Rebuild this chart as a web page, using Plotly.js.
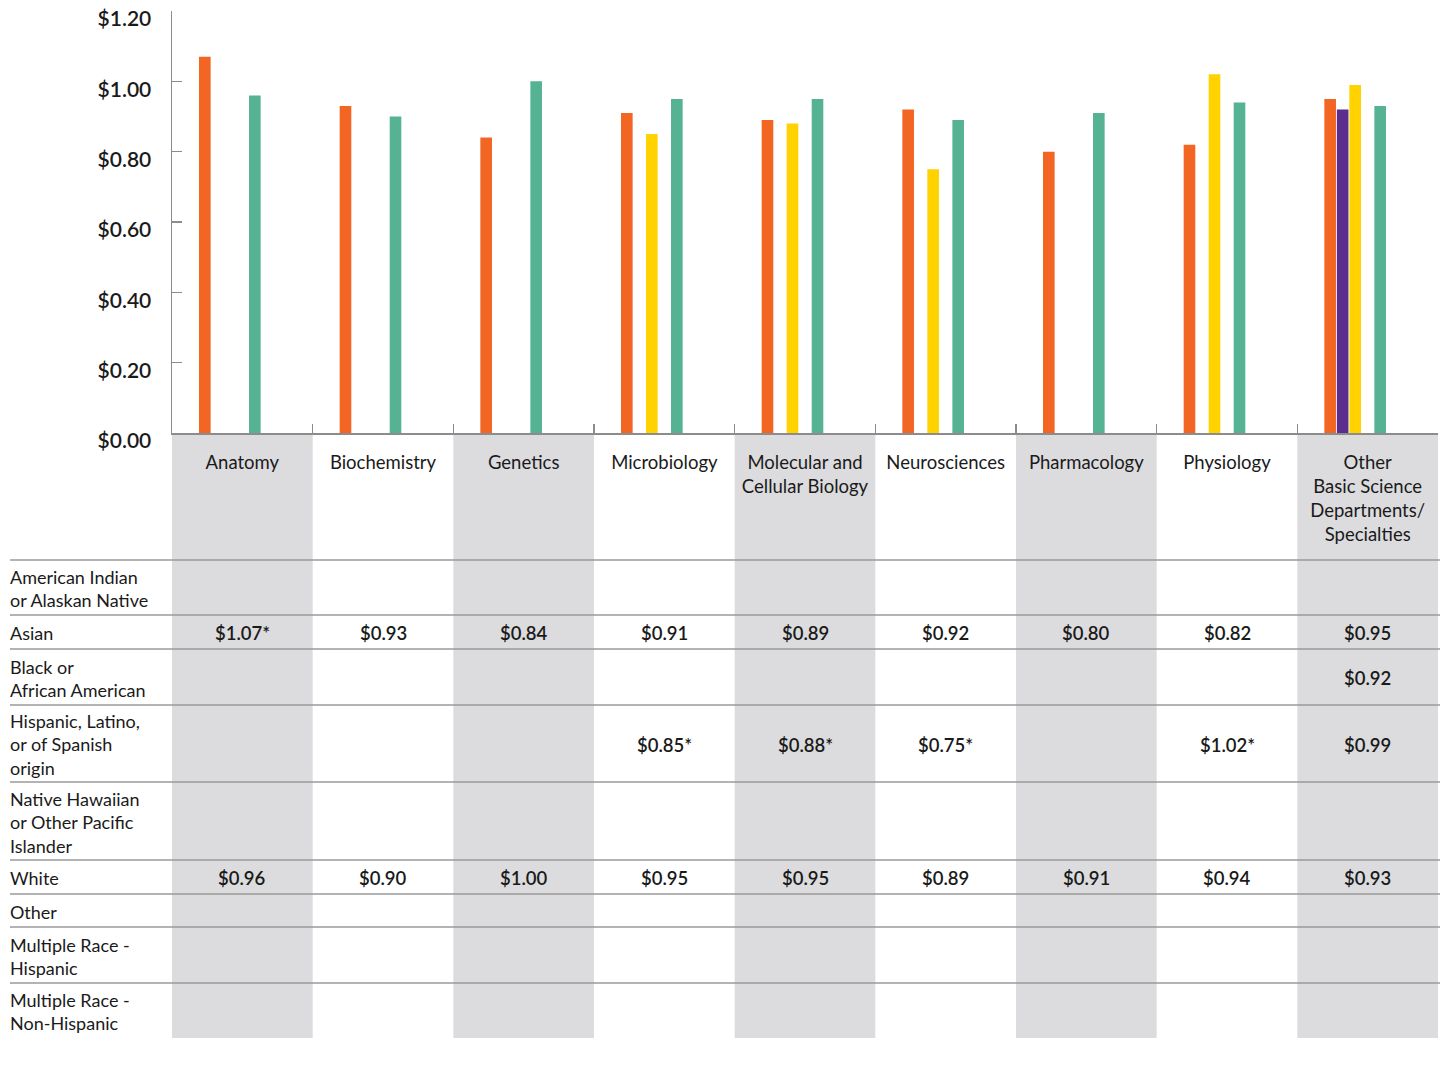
<!DOCTYPE html>
<html>
<head>
<meta charset="utf-8">
<script src="https://cdn.plot.ly/plotly-3.0.1.min.js"></script>
<style>html,body{margin:0;padding:0;background:#fff;}</style>
</head>
<body>
<div id="chart" style="width:1445px;height:1066px;"></div>
<script>
// ---------- DATA ----------
const categories = ['Anatomy', 'Biochemistry', 'Genetics', 'Microbiology',
  'Molecular and<br>Cellular Biology', 'Neurosciences', 'Pharmacology', 'Physiology',
  'Other<br>Basic Science<br>Departments/<br>Specialties'];

const raceGroups = ['American Indian<br>or Alaskan Native', 'Asian', 'Black or<br>African American',
  'Hispanic, Latino,<br>or of Spanish<br>origin', 'Native Hawaiian<br>or Other Pacific<br>Islander',
  'White', 'Other', 'Multiple Race -<br>Hispanic', 'Multiple Race -<br>Non-Hispanic'];

const aianValues     = [null, null, null, null, null, null, null, null, null];
const asianValues    = [1.07, 0.93, 0.84, 0.91, 0.89, 0.92, 0.80, 0.82, 0.95];
const blackValues    = [null, null, null, null, null, null, null, null, 0.92];
const hispanicValues = [null, null, null, 0.85, 0.88, 0.75, null, 1.02, 0.99];
const nhpiValues     = [null, null, null, null, null, null, null, null, null];
const whiteValues    = [0.96, 0.90, 1.00, 0.95, 0.95, 0.89, 0.91, 0.94, 0.93];
const otherValues    = [null, null, null, null, null, null, null, null, null];
const mrHispValues   = [null, null, null, null, null, null, null, null, null];
const mrNonHispValues= [null, null, null, null, null, null, null, null, null];

// significance flags (asterisk in the table)
const asianFlags    = [true, false, false, false, false, false, false, false, false];
const hispanicFlags = [false, false, false, true, true, true, false, true, false];

const yTickValues = [0, 0.2, 0.4, 0.6, 0.8, 1.0, 1.2];
const yTickLabels = ['$0.00', '$0.20', '$0.40', '$0.60', '$0.80', '$1.00', '$1.20'];

// ---------- STYLE ----------
const seriesValues = [aianValues, asianValues, blackValues, hispanicValues, nhpiValues,
  whiteValues, otherValues, mrHispValues, mrNonHispValues];
const noFlags = categories.map(() => false);
const seriesFlags = [noFlags, asianFlags, noFlags, hispanicFlags, noFlags, noFlags, noFlags, noFlags, noFlags];
const seriesColors = ['#9b9b9b', '#F26522', '#5B2D8E', '#FFD200', '#3f7fbf',
  '#55B293', '#888888', '#777777', '#666666'];

const FONT = 'Lato, "Open Sans", sans-serif';
const TXT = '#1a1a1a';
const LINE = '#9a9a9a';

const W = 1445, H = 1066;
const mL = 172, mR = 7, mT = 11, mB = 633;
const plotH = H - mT - mB;       // 422
const plotW = W - mL - mR;       // 1266
const py = p => (H - mB - p) / plotH;   // pixel y -> paper y
const px = p => (p - mL) / plotW;       // pixel x -> paper x

// table row boundaries (pixels)
const rowEdges = [560, 615, 649, 705, 782, 860, 894, 927, 983, 1038];

const traces = seriesValues.map((vals, i) => ({
  type: 'bar',
  name: raceGroups[i].replace(/<br>/g, ' '),
  x: categories,
  y: vals,
  marker: {color: seriesColors[i], line: {width: 0}},
  hoverinfo: 'x+y+name',
  showlegend: false
}));

const shapes = [];
categories.forEach((c, i) => {
  if (i % 2 === 0) {
    shapes.push({type: 'rect', xref: 'x', yref: 'paper', layer: 'below',
      x0: i - 0.5, x1: i + 0.5, y0: py(434), y1: py(1038),
      fillcolor: '#dcdcde', line: {width: 0}});
  }
});
rowEdges.slice(0, -1).forEach(e => {
  shapes.push({type: 'line', xref: 'paper', yref: 'paper', layer: 'above',
    x0: px(10), x1: px(1440), y0: py(e), y1: py(e),
    line: {color: LINE, width: 1.5}});
});

const annotations = [];
raceGroups.forEach((r, i) => {
  const yc = py((rowEdges[i] + rowEdges[i + 1]) / 2 + 1);
  annotations.push({xref: 'paper', yref: 'paper', x: px(8), y: yc,
    xanchor: 'left', yanchor: 'middle', align: 'left', showarrow: false,
    text: r, font: {family: FONT, size: 18, color: TXT}});
  seriesValues[i].forEach((v, j) => {
    if (v === null) return;
    annotations.push({xref: 'x', yref: 'paper', x: categories[j], y: yc,
      xanchor: 'center', yanchor: 'middle', showarrow: false,
      text: '$' + v.toFixed(2) + (seriesFlags[i][j] ? '*' : ''),
      font: {family: FONT, size: 18.5, color: TXT, weight: 600}});
  });
});

const layout = {
  width: W, height: H,
  margin: {l: mL, r: mR, t: mT, b: mB, pad: 0},
  paper_bgcolor: '#ffffff', plot_bgcolor: '#ffffff',
  barmode: 'group', bargap: 0.2, bargroupgap: 0.07,
  showlegend: false,
  font: {family: FONT, color: TXT},
  xaxis: {
    type: 'category', showline: true, linecolor: '#8c8c8c', linewidth: 1.5,
    ticks: 'inside', tickson: 'boundaries', ticklen: 9, tickwidth: 1.5, tickcolor: '#8c8c8c',
    showgrid: false, zeroline: false, fixedrange: true,
    tickfont: {family: FONT, size: 18.5, color: TXT},
    ticklabelstandoff: 12, tickangle: 0
  },
  yaxis: {
    range: [0, 1.2001], showline: true, linecolor: '#8c8c8c', linewidth: 1.5,
    ticks: 'inside', ticklen: 10, tickwidth: 1.5, tickcolor: '#8c8c8c',
    tickmode: 'array', tickvals: yTickValues, ticktext: yTickLabels,
    showgrid: false, zeroline: false, fixedrange: true,
    tickfont: {family: FONT, size: 21, color: TXT, weight: 600},
    ticklabelstandoff: 15, ticklabelshift: 8
  },
  shapes: shapes,
  annotations: annotations
};

Plotly.newPlot('chart', traces, layout, {displayModeBar: false, staticPlot: true});
</script>
</body>
</html>
